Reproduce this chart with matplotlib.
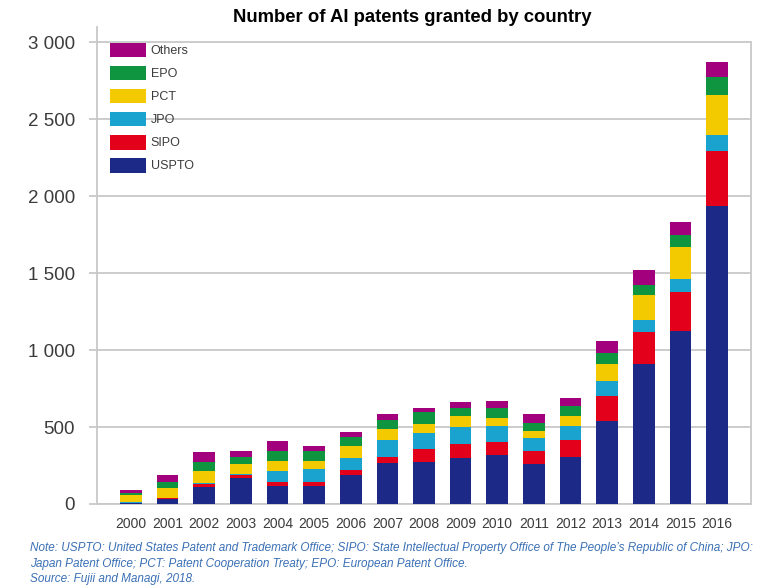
import matplotlib.pyplot as plt
import numpy as np

years = [str(y) for y in range(2000, 2017)]

# stacked from bottom to top
uspto = [5, 35, 111, 169, 115, 115, 191, 267, 271, 297, 319, 258, 304, 542, 911, 1126, 1935]
sipo = [2, 5, 22, 22, 28, 28, 33, 39, 87, 91, 85, 89, 113, 160, 210, 249, 362]
jpo = [3, 2, 4, 4, 69, 85, 76, 113, 104, 115, 100, 80, 87, 98, 76, 87, 100]
pct = [50, 59, 80, 65, 65, 54, 76, 69, 61, 69, 54, 48, 65, 108, 163, 206, 260]
epo = [11, 39, 54, 48, 65, 61, 59, 61, 74, 54, 65, 54, 65, 76, 65, 82, 119]
others = [22, 48, 69, 39, 65, 37, 35, 33, 28, 35, 46, 56, 56, 78, 98, 82, 95]

series = ["USPTO", "SIPO", "JPO", "PCT", "EPO", "Others"]
values = [uspto, sipo, jpo, pct, epo, others]
colors = ["#1c2987", "#e2001a", "#1aa3cf", "#f3c900", "#0f9540", "#a3007d"]

font = "Liberation Sans"

fig = plt.figure(figsize=(7.74, 5.87), dpi=100)
ax = fig.add_axes([97 / 774, 1 - 504 / 587, (751 - 97) / 774, (504 - 27) / 587])

x = np.arange(len(years))
bottom = np.zeros(len(years))
handles = []
for name, vals, col in zip(series, values, colors):
    b = ax.bar(x, vals, width=0.59, bottom=bottom, color=col, label=name, zorder=3)
    handles.append(b)
    bottom += np.array(vals)

ax.set_xlim(-0.93, len(years) - 1 + 0.93)
ax.set_ylim(0, 3100)
ax.set_yticks(np.arange(0, 3001, 500))
ax.set_yticklabels([f"{v:,}".replace(",", " ") for v in range(0, 3001, 500)],
                   fontsize=13.5, family=font, color="#3c3c3c")
ax.set_xticks(x)
ax.set_xticklabels(years, fontsize=10, family=font, color="#3c3c3c")

grid_col = "#c8c8c8"
ax.yaxis.grid(True, color=grid_col, linewidth=1.3, zorder=0)
ax.tick_params(axis="y", length=6, width=1.3, color=grid_col, pad=10)
ax.tick_params(axis="x", length=0, pad=9)
for side in ["left", "bottom", "right"]:
    ax.spines[side].set_color(grid_col)
    ax.spines[side].set_linewidth(1.3)
ax.spines["top"].set_visible(False)
ax.spines["right"].set_bounds(0, 3000)

fs = 9
leg = ax.legend(handles[::-1], series[::-1], loc="upper left",
                bbox_to_anchor=(110 / 774, 1 - 42.7 / 587), bbox_transform=fig.transFigure,
                frameon=False, borderpad=0, borderaxespad=0,
                handlelength=2.88, handleheight=1.44, labelspacing=0.66,
                handletextpad=0.38, prop={"family": font, "size": fs})
for t in leg.get_texts():
    t.set_color("#3c3c3c")

fig.text(412 / 774, 1 - 17 / 587, "Number of AI patents granted by country",
         ha="center", va="center", fontsize=13.3, fontweight="bold", family=font)

note_col = "#3a70b5"
notes = [
    "Note: USPTO: United States Patent and Trademark Office; SIPO: State Intellectual Property Office of The People\u2019s Republic of China; JPO:",
    "Japan Patent Office; PCT: Patent Cooperation Treaty; EPO: European Patent Office.",
    "Source: Fujii and Managi, 2018.",
]
for i, line in enumerate(notes):
    fig.text(30 / 774, 1 - (548 + i * 15.5) / 587, line, ha="left", va="center",
             fontsize=8.5, style="italic", family=font, color=note_col)

fig.savefig("out.png", dpi=100)
